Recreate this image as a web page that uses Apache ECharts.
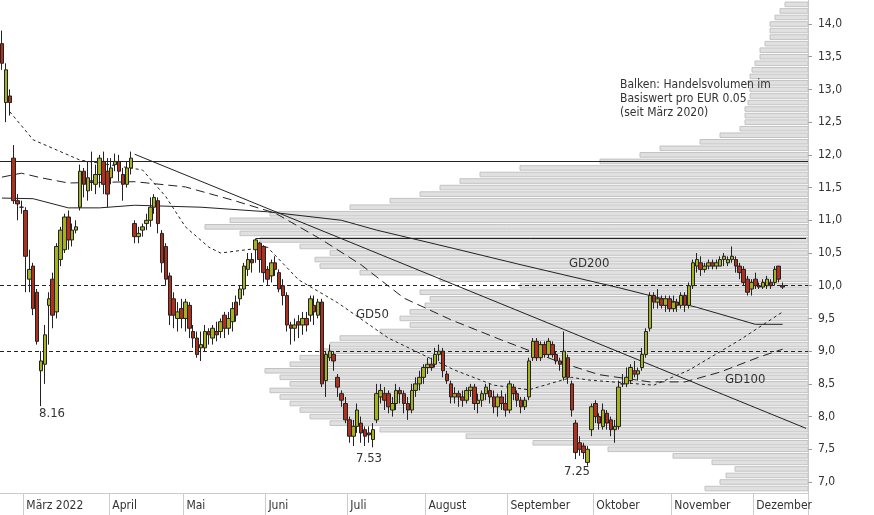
<!DOCTYPE html>
<html><head><meta charset="utf-8">
<script src="https://cdn.jsdelivr.net/npm/echarts@6/dist/echarts.min.js"></script>
<style>html,body{margin:0;padding:0;background:#fff}#c{width:874px;height:515px}</style>
</head><body><div id="c"></div>
<script>
// candles: [open, close, low, high]
const candles = [
[13.7,13.4,13.3,13.9],[12.8,13.3,12.5,13.4],[12.9,12.8,12.6,13.0],[11.95,11.3,11.25,12.15],[11.3,11.25,11.0,11.4],
[11.2,11.2,11.1,11.3],[11.15,10.45,9.9,11.2],[10.1,10.25,9.9,10.55],[10.3,9.65,9.55,10.35],[9.9,9.15,9.1,9.95],
[8.7,8.85,8.16,9.0],[8.8,9.25,8.5,9.4],[9.7,9.8,9.1,9.9],[10.1,9.55,9.35,10.2],[9.6,10.6,9.5,10.65],
[10.4,10.85,10.3,10.9],[10.55,11.05,10.5,11.1],[11.05,10.7,10.55,11.15],[10.7,10.85,10.6,10.95],[10.85,10.9,10.8,11.0],
[11.2,11.75,11.15,11.85],[11.75,11.55,11.35,11.8],[11.45,11.65,11.3,11.9],[11.6,11.6,11.45,12.05],[11.55,11.7,11.4,11.85],
[11.7,11.95,11.5,12.0],[11.9,11.55,11.4,12.05],[11.75,11.4,11.2,11.95],[11.65,11.8,11.55,11.95],[11.85,11.9,11.75,12.02],
[11.9,11.75,11.6,12.0],[11.7,11.55,11.3,11.8],[11.55,11.8,11.5,11.9],[11.8,11.95,11.7,12.05],[10.95,10.75,10.65,11.0],
[10.75,10.8,10.65,10.9],[10.85,10.9,10.75,10.95],[10.95,11.0,10.85,11.1],[11.0,11.2,10.9,11.35],[11.2,11.35,11.1,11.4],
[11.3,10.95,10.8,11.35],[10.8,10.35,10.2,10.85],[10.6,10.1,10.0,10.65],[10.15,9.55,9.4,10.2],[9.8,9.55,9.35,9.9],
[9.5,9.6,9.3,9.75],[9.65,9.5,9.35,9.8],[9.5,9.75,9.3,9.8],[9.7,9.35,9.2,9.75],[9.3,9.2,9.05,9.4],
[9.2,8.95,8.9,9.3],[9.05,9.1,8.85,9.3],[9.05,9.3,9.0,9.4],[9.3,9.25,9.1,9.35],[9.2,9.35,9.1,9.4],
[9.3,9.25,9.15,9.45],[9.3,9.45,9.2,9.5],[9.55,9.35,9.2,9.6],[9.35,9.5,9.25,9.6],[9.45,9.65,9.3,9.75],
[9.75,9.55,9.45,9.85],[9.8,9.95,9.7,10.0],[9.95,10.3,9.85,10.35],[10.25,10.4,10.15,10.5],[10.4,10.35,10.2,10.5],
[10.55,10.7,10.35,10.72],[10.65,10.4,10.2,10.67],[10.6,10.2,10.05,10.62],[10.25,10.1,10.0,10.3],[10.15,10.35,10.05,10.4],
[10.35,10.25,10.15,10.45],[10.2,9.95,9.9,10.25],[10.0,9.85,9.7,10.1],[9.85,9.4,9.3,9.9],[9.4,9.35,9.1,9.45],
[9.35,9.4,9.15,9.5],[9.45,9.4,9.2,9.55],[9.4,9.5,9.25,9.6],[9.5,9.4,9.3,9.6],[9.55,9.8,9.45,9.85],
[9.7,9.6,9.4,9.85],[9.55,9.75,9.5,9.8],[9.75,8.5,8.45,9.8],[8.55,8.95,8.3,9.0],[8.9,9.0,8.85,9.1],
[8.95,8.85,8.7,9.0],[8.6,8.45,8.3,8.65],[8.35,8.25,8.15,8.4],[8.2,7.95,7.9,8.3],[7.95,7.7,7.6,8.0],
[7.7,7.85,7.55,7.95],[7.85,8.1,7.75,8.2],[7.9,7.75,7.6,8.0],[7.8,7.7,7.55,7.85],[7.75,7.72,7.6,7.85],
[7.65,7.8,7.53,7.9],[7.95,8.35,7.9,8.5],[8.3,8.4,8.2,8.5],[8.35,8.25,8.1,8.45],[8.35,8.15,8.05,8.4],
[8.1,8.2,8.0,8.3],[8.2,8.4,8.1,8.5],[8.4,8.35,8.2,8.45],[8.35,8.2,8.05,8.4],[8.2,8.1,7.95,8.3],
[8.1,8.4,8.05,8.5],[8.4,8.5,8.3,8.6],[8.5,8.6,8.4,8.7],[8.6,8.75,8.5,8.8],[8.75,8.8,8.65,8.9],
[8.8,8.75,8.7,8.9],[8.8,8.95,8.75,9.05],[8.95,9.0,8.85,9.1],[9.0,8.7,8.6,9.05],[8.65,8.55,8.5,8.7],
[8.5,8.3,8.2,8.55],[8.3,8.35,8.2,8.45],[8.35,8.3,8.15,8.4],[8.3,8.25,8.15,8.4],[8.25,8.4,8.2,8.45],
[8.4,8.45,8.3,8.5],[8.45,8.2,8.1,8.5],[8.2,8.25,8.05,8.35],[8.25,8.35,8.15,8.4],[8.35,8.45,8.25,8.5],
[8.4,8.3,8.2,8.5],[8.3,8.15,8.05,8.4],[8.15,8.3,8.0,8.35],[8.3,8.2,8.1,8.4],[8.2,8.1,8.0,8.35],
[8.1,8.5,8.05,8.55],[8.45,8.35,8.25,8.5],[8.35,8.25,8.15,8.4],[8.25,8.15,8.05,8.3],[8.15,8.25,8.1,8.3],
[8.3,8.85,8.25,8.9],[8.9,9.15,8.85,9.2],[9.15,8.9,8.85,9.2],[8.9,9.1,8.85,9.15],[9.1,8.95,8.9,9.15],
[8.95,9.15,8.9,9.2],[9.1,8.95,8.9,9.15],[8.95,8.85,8.8,9.0],[8.85,8.8,8.7,8.9],[8.6,9.0,8.55,9.3],
[8.9,8.6,8.5,8.95],[8.5,8.1,8.0,8.55],[7.9,7.45,7.35,7.95],[7.6,7.5,7.4,7.7],[7.55,7.45,7.35,7.6],
[7.3,7.5,7.25,7.55],[7.8,8.15,7.7,8.2],[8.2,8.0,7.9,8.25],[8.0,7.9,7.8,8.05],[7.85,8.1,7.8,8.2],
[8.05,7.9,7.8,8.1],[7.95,7.8,7.7,8.0],[7.8,7.85,7.6,7.95],[7.85,8.45,7.8,8.55],[8.5,8.5,8.45,8.65],
[8.5,8.6,8.45,8.75],[8.55,8.75,8.5,8.8],[8.7,8.65,8.6,8.85],[8.65,8.7,8.55,8.75],[8.75,8.95,8.7,9.05],
[8.95,9.3,8.9,9.35],[9.35,9.85,9.3,9.9],[9.85,9.75,9.65,9.9],[9.75,9.8,9.65,9.95],[9.8,9.7,9.65,9.85],
[9.7,9.8,9.6,9.85],[9.8,9.65,9.6,9.85],[9.65,9.75,9.6,9.85],[9.75,9.7,9.6,9.8],[9.7,9.85,9.65,9.9],
[9.85,9.7,9.6,9.9],[9.7,10.0,9.65,10.05],[10.0,10.35,9.95,10.4],[10.3,10.4,10.2,10.5],[10.35,10.25,10.15,10.45],
[10.25,10.3,10.2,10.35],[10.3,10.35,10.25,10.4],[10.35,10.3,10.25,10.4],[10.3,10.35,10.25,10.4],[10.3,10.4,10.3,10.45],
[10.4,10.45,10.3,10.5],[10.35,10.4,10.3,10.45],[10.4,10.45,10.35,10.6],[10.4,10.3,10.2,10.45],[10.3,10.2,10.1,10.35],
[10.25,10.05,10.0,10.3],[10.1,9.9,9.85,10.15],[9.95,10.05,9.85,10.1],[10.1,10.0,9.95,10.2],[10.0,9.98,9.95,10.05],
[9.98,10.05,9.95,10.1],[10.0,10.1,9.95,10.15],[10.05,10.0,9.95,10.1],[10.05,10.25,10.0,10.3],[10.3,10.1,10.05,10.3],
[10.0,9.98,9.95,10.05]
];
const totalSlots = 207;
const monthStarts = [6, 28, 47, 68, 89, 109, 130, 152, 172, 193];
const monthLabels = ['März 2022','April','Mai','Juni','Juli','August','September','Oktober','November','Dezember'];
const yTicks = [7.0,7.5,8.0,8.5,9.0,9.5,10.0,10.5,11.0,11.5,12.0,12.5,13.0,13.5,14.0];
// moving averages as [slot index, price]
const gd200 = [[0,11.34],[8,11.33],[17,11.19],[25,11.19],[34,11.23],[51,11.2],[68,11.13],[87,11.0],[96,10.85],[115,10.58],[133,10.32],[158,9.97],[178,9.67],[193,9.41],[200,9.41]];
const gd100 = [[0,11.66],[5,11.72],[10,11.65],[17,11.57],[34,11.59],[47,11.51],[59,11.31],[70,11.11],[82,10.7],[92,10.32],[103,9.81],[115,9.48],[128,9.17],[143,8.83],[153,8.64],[166,8.53],[175,8.53],[184,8.68],[194,8.91],[200,9.03]];
const gd50 = [[2,12.66],[8,12.23],[20,11.92],[36,11.77],[42,11.36],[47,10.9],[53,10.59],[56,10.5],[68,10.59],[76,10.09],[86,9.74],[99,9.2],[116,8.71],[126,8.48],[135,8.41],[146,8.6],[150,8.56],[167,8.48],[176,8.71],[189,9.17],[200,9.6]];
// volume profile: price levels and bar lengths
const volPrices = [14.3,14.2,14.1,14.0,13.9,13.8,13.7,13.6,13.5,13.4,13.3,13.2,13.1,13.0,12.9,12.8,12.7,12.6,12.5,12.4,12.3,12.2,12.1,12.0,11.9,11.8,11.7,11.6,11.5,11.4,11.3,11.2,11.1,11.0,10.9,10.8,10.7,10.6,10.5,10.4,10.3,10.2,10.1,10.0,9.9,9.8,9.7,9.6,9.5,9.4,9.3,9.2,9.1,9.0,8.9,8.8,8.7,8.6,8.5,8.4,8.3,8.2,8.1,8.0,7.9,7.8,7.7,7.6,7.5,7.4,7.3,7.2,7.1,7.0,6.9];
const volValues = [23,28,33,38,38,38,43,48,48,53,56,58,60,58,58,60,63,63,63,68,88,108,148,168,208,288,328,348,368,388,418,458,538,578,603,568,548,508,478,493,488,448,368,288,388,378,383,398,408,398,428,468,478,488,508,518,543,528,518,538,528,518,508,498,478,428,342,275,200,135,96,73,82,88,103];
const trendLine = [[34,12.01],[206,7.82]];
const resistance = [[65,10.72],[206,10.72]];
const hLines = [11.9];
const dashedLines = [10.0, 9.0];

const cats = Array.from({length: totalSlots}, (_, i) => String(i));
const FONT = "'Liberation Sans Narrow','DejaVu Sans Condensed',sans-serif";
const chart = echarts.init(document.getElementById('c'));
chart.setOption({
  animation: false,
  backgroundColor: '#fff',
  grid: {left: 0, right: 66, top: 0, bottom: 22, containLabel: false},
  xAxis: [{
    type: 'category', data: cats, boundaryGap: true,
    axisLine: {lineStyle: {color: '#cccccc'}},
    axisTick: {show: true, length: 22, inside: false, interval: (i) => monthStarts.includes(i), lineStyle: {color: '#cccccc'}},
    axisLabel: {interval: (i) => monthStarts.includes(i), formatter: (v, i) => monthLabels[monthStarts.indexOf(Number(v))] || '',
      align: 'left', margin: 7, padding: [0,0,0,1], color: '#333', fontFamily: FONT, fontSize: 12}
  }, {
    type: 'value', min: 0, max: 808, inverse: true, show: false
  }],
  yAxis: {
    type: 'value', position: 'right', min: 6.832, max: 14.367, scale: true,
    splitLine: {show: false},
    axisLine: {show: true, lineStyle: {color: '#cccccc'}},
    axisTick: {show: true, length: 4, customValues: yTicks, lineStyle: {color: '#999'}},
    axisLabel: {customValues: yTicks, formatter: v => v.toFixed(1).replace('.', ','), color: '#333', fontFamily: FONT, fontSize: 12, margin: 10}
  },
  series: [{
    type: 'custom', xAxisIndex: 1, yAxisIndex: 0, silent: true, z: 1,
    data: volPrices.map((p, k) => [volValues[k], p]),
    renderItem: (params, api) => {
      const v = api.value(0), p = api.value(1);
      const a = api.coord([v, p + 0.035]);
      const b = api.coord([0, p - 0.035]);
      return {type: 'rect', shape: {x: a[0], y: a[1], width: b[0] - a[0], height: b[1] - a[1]},
        style: {fill: '#e0e0e0', stroke: '#c2c2c2', lineWidth: 1}};
    }
  }, {
    type: 'line', data: gd200, symbol: 'none', z: 3, lineStyle: {color: '#222', width: 1}
  }, {
    type: 'line', data: gd100, symbol: 'none', z: 3, lineStyle: {color: '#222', width: 1, type: [9, 5]}
  }, {
    type: 'line', data: gd50, symbol: 'none', z: 3, lineStyle: {color: '#222', width: 1, type: [3, 3]}
  }, {
    type: 'candlestick', data: candles.map(c => [c[0], c[1], c[2], c[3]]), barWidth: 4, z: 5,
    itemStyle: {color: '#a5b21e', color0: '#b0301e', borderColor: '#222', borderColor0: '#222', borderWidth: 1},
    markLine: {
      silent: true, symbol: 'none', label: {show: false},
      data: [
        ...hLines.map(y => ({yAxis: y, lineStyle: {color: '#222', width: 1, type: 'solid'}})),
        ...dashedLines.map(y => ({yAxis: y, lineStyle: {color: '#222', width: 1, type: [4, 3]}})),
        [{coord: trendLine[0]}, {coord: trendLine[1], lineStyle: {color: '#222', width: 1, type: 'solid'}}],
        [{coord: resistance[0]}, {coord: resistance[1], lineStyle: {color: '#222', width: 1, type: 'solid'}}]
      ]
    }
  }],
  graphic: [
    {type: 'text', z: 100, left: 620, top: 78, style: {text: 'Balken: Handelsvolumen im\nBasiswert pro EUR 0.05\n(seit März 2020)', font: "12px " + FONT, fill: '#333', lineHeight: 14}},
    {type: 'text', z: 100, left: 39, top: 407, style: {text: '8.16', font: "13px " + FONT, fill: '#333'}},
    {type: 'text', z: 100, left: 356, top: 452, style: {text: '7.53', font: "13px " + FONT, fill: '#333'}},
    {type: 'text', z: 100, left: 564, top: 465, style: {text: '7.25', font: "13px " + FONT, fill: '#333'}},
    {type: 'text', z: 100, left: 569, top: 257, style: {text: 'GD200', font: "13px " + FONT, fill: '#333'}},
    {type: 'text', z: 100, left: 356, top: 308, style: {text: 'GD50', font: "13px " + FONT, fill: '#333'}},
    {type: 'text', z: 100, left: 725, top: 373, style: {text: 'GD100', font: "13px " + FONT, fill: '#333'}}
  ]
});
</script></body></html>
